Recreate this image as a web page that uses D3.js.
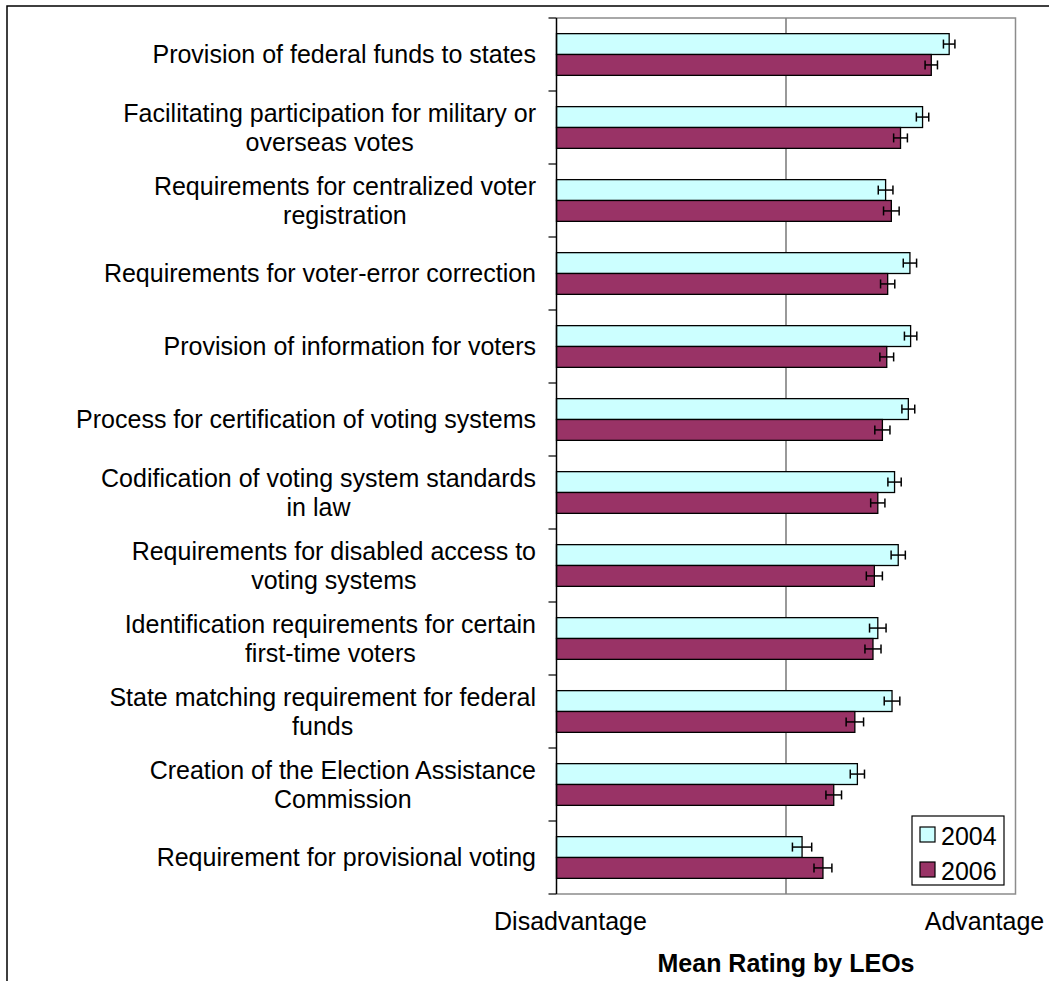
<!DOCTYPE html>
<html><head><meta charset="utf-8">
<script src="https://cdn.jsdelivr.net/npm/d3@7/dist/d3.min.js"></script>
<style>body{margin:0;background:#fff}svg{display:block}text{font-family:"Liberation Sans",Arial,sans-serif}</style>
</head><body><svg id="c" width="1049" height="981"></svg>
<script>
const categories = [
  ["Provision of federal funds to states"],
  ["Facilitating participation for military or","overseas votes"],
  ["Requirements for centralized voter","registration"],
  ["Requirements for voter-error correction"],
  ["Provision of information for voters"],
  ["Process for certification of voting systems"],
  ["Codification of voting system standards","in law"],
  ["Requirements for disabled access to","voting systems"],
  ["Identification requirements for certain","first-time voters"],
  ["State matching requirement for federal","funds"],
  ["Creation of the Election Assistance","Commission"],
  ["Requirement for provisional voting"]
];
const series = ["2004","2006"];
const values2004 = [0.711,0.595,0.434,0.540,0.543,0.533,0.473,0.489,0.400,0.462,0.311,0.070];
const values2006 = [0.633,0.499,0.459,0.443,0.439,0.420,0.400,0.385,0.379,0.300,0.208,0.161];
const err2004 = [0.025,0.027,0.032,0.029,0.027,0.028,0.029,0.031,0.036,0.034,0.031,0.042];
const err2006 = [0.027,0.030,0.034,0.031,0.030,0.033,0.031,0.035,0.035,0.038,0.034,0.039];
const axisLabels = ["Disadvantage","Advantage"];
const axisTitle = "Mean Rating by LEOs";
const colors = ["#CCFFFF","#993366"];

const svg = d3.select("#c");
const FS = 25;
const L = 556.5, R = 1015.5, T = 18, B = 894;
const x = d3.scaleLinear().domain([-1,1]).range([L,R]);
const keys = categories.map((d,i)=>i);
const y0 = d3.scaleBand().domain(keys).range([T,B]).paddingInner(0).paddingOuter(0);
const y1 = d3.scaleBand().domain(series).range([0,y0.bandwidth()]).paddingInner(0).paddingOuter(0.75);

svg.append("rect").attr("width",1049).attr("height",981).attr("fill","#fff");
// outer frame
svg.append("path").attr("d","M7,981V6H1049").attr("fill","none").attr("stroke","#000").attr("stroke-width",1.5);

// plot border
svg.append("path").attr("d",`M${L},${T}H${R}V${B}H${L}`).attr("fill","none").attr("stroke","#8c8c8c").attr("stroke-width",1.5);
// mid gridline
svg.append("line").attr("x1",x(0)).attr("x2",x(0)).attr("y1",T).attr("y2",B).attr("stroke","#808080").attr("stroke-width",1.6);

const data = keys.map(i=>({i, vals:[
  {s:"2004", v:values2004[i], e:err2004[i], c:colors[0]},
  {s:"2006", v:values2006[i], e:err2006[i], c:colors[1]}]}));

const g = svg.append("g").selectAll("g").data(data).join("g").attr("transform",d=>`translate(0,${y0(d.i)})`);
g.selectAll("rect").data(d=>d.vals).join("rect")
  .attr("x",x(-1)).attr("y",d=>y1(d.s)).attr("width",d=>x(d.v)-x(-1)).attr("height",y1.bandwidth())
  .attr("fill",d=>d.c).attr("stroke","#000").attr("stroke-width",1.3);
// error bars
const eb = g.selectAll("g.eb").data(d=>d.vals).join("g").attr("class","eb");
eb.append("line").attr("x1",d=>x(d.v-d.e)).attr("x2",d=>x(d.v+d.e))
  .attr("y1",d=>y1(d.s)+y1.bandwidth()/2).attr("y2",d=>y1(d.s)+y1.bandwidth()/2).attr("stroke","#000").attr("stroke-width",1.5);
[-1,1].forEach(sgn=>{
  eb.append("line").attr("x1",d=>x(d.v+sgn*d.e)).attr("x2",d=>x(d.v+sgn*d.e))
    .attr("y1",d=>y1(d.s)+y1.bandwidth()/2-4.5).attr("y2",d=>y1(d.s)+y1.bandwidth()/2+4.5).attr("stroke","#000").attr("stroke-width",1.5);
});

// left axis with ticks at band boundaries
const ax = svg.append("g");
ax.append("line").attr("x1",L).attr("x2",L).attr("y1",T).attr("y2",B).attr("stroke","#000").attr("stroke-width",1.5);
const bounds = keys.map(i=>y0(i)).concat([B]);
ax.selectAll("line.t").data(bounds).join("line").attr("class","t")
  .attr("x1",L-8).attr("x2",L).attr("y1",d=>d).attr("y2",d=>d).attr("stroke","#000").attr("stroke-width",1.2);

// category labels (centered block, right edge at 536)
const labRight = 536, lineH = 29, capHalf = FS*0.716/2;
const lg = svg.append("g");
categories.forEach((lines,i)=>{
  const cy = y0(i)+y0.bandwidth()/2;
  const tg = lg.append("g");
  const ts = lines.map((ln,j)=>tg.append("text").attr("font-size",FS).attr("fill","#000").attr("text-anchor","middle")
    .attr("y", cy + capHalf + (j-(lines.length-1)/2)*lineH).text(ln));
  const w = d3.max(ts,t=>t.node().getComputedTextLength());
  ts.forEach(t=>t.attr("x",labRight-w/2));
});

// axis end labels
svg.append("text").attr("x",x(-1)+14).attr("y",929.5).attr("text-anchor","middle").attr("font-size",FS).text(axisLabels[0]);
svg.append("text").attr("x",x(1)-31).attr("y",929.5).attr("text-anchor","middle").attr("font-size",FS).text(axisLabels[1]);
svg.append("text").attr("x",x(0)).attr("y",972).attr("text-anchor","middle").attr("font-size",FS).attr("font-weight","bold").text(axisTitle);

// legend
const leg = svg.append("g").attr("transform","translate(912,816)");
leg.append("rect").attr("width",92).attr("height",69).attr("fill","#fff").attr("stroke","#000").attr("stroke-width",1.2);
series.forEach((s,i)=>{
  leg.append("rect").attr("x",8).attr("y",11+i*35).attr("width",15).attr("height",15).attr("fill",colors[i]).attr("stroke","#000").attr("stroke-width",1.2);
  leg.append("text").attr("x",29).attr("y",28.5+i*35).attr("font-size",FS).text(s);
});
</script></body></html>
